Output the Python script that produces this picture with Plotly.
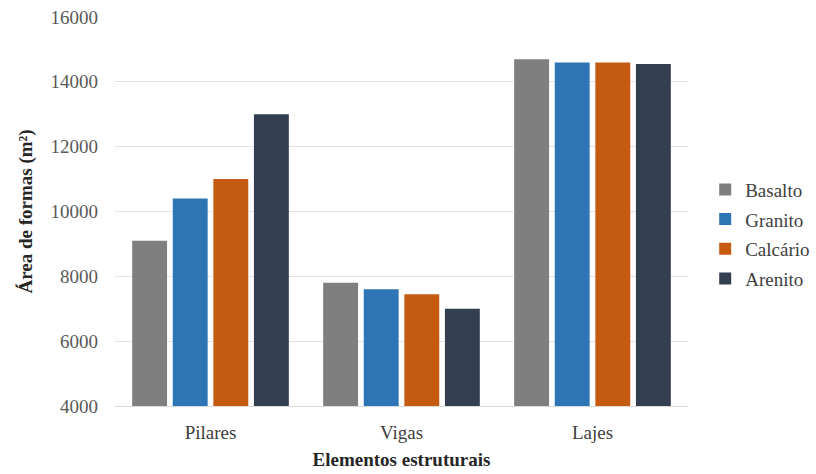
import plotly.graph_objects as go

categories = ["Pilares", "Vigas", "Lajes"]
basalto = [9100, 7800, 14700]
granito = [10400, 7600, 14600]
calcario = [11000, 7450, 14600]
arenito = [13000, 7000, 14550]

series = [
    ("Basalto", basalto, "#7f7f7f"),
    ("Granito", granito, "#2e75b6"),
    ("Calcário", calcario, "#c55a11"),
    ("Arenito", arenito, "#333f50"),
]

serif = "Liberation Serif"

fig = go.Figure()
for i, (name, vals, color) in enumerate(series):
    fig.add_trace(go.Bar(
        x=categories, y=vals, name=name,
        marker=dict(color=color, line=dict(width=0)),
        legendgroup=f"g{i}",
    ))

fig.update_layout(
    width=816, height=474,
    margin=dict(l=115, r=128, t=17, b=68, autoexpand=False),
    paper_bgcolor="white", plot_bgcolor="white",
    barmode="group", bargap=0.15, bargroupgap=0.14,
    font=dict(family=serif, size=19, color="#595959"),
    showlegend=True,
    legend=dict(
        x=1.03, y=0.442, xanchor="left", yanchor="middle",
        font=dict(family=serif, size=19, color="#404040"),
        tracegroupgap=2, itemwidth=30,
        bgcolor="rgba(0,0,0,0)",
    ),
    xaxis=dict(
        automargin=False,
        showgrid=False, showline=True, linecolor="#d9d9d9", linewidth=1,
        ticks="", ticklabelstandoff=9,
        tickfont=dict(family=serif, size=19, color="#404040"),
        title=dict(text="<b>Elementos estruturais</b>", standoff=10,
                   font=dict(family=serif, size=19, color="#262626")),
    ),
    yaxis=dict(
        automargin=False,
        range=[4000, 16000], dtick=2000, tickformat="d",
        showgrid=True, gridcolor="#e3e3e3", gridwidth=1,
        zeroline=False, showline=False, ticks="",
        ticklabelstandoff=16,
        tickfont=dict(family=serif, size=19, color="#595959"),
        title=dict(text="<b>Área de formas (m²)</b>", standoff=12,
                   font=dict(family=serif, size=19, color="#262626")),
    ),
)

fig.write_html("out.html")
